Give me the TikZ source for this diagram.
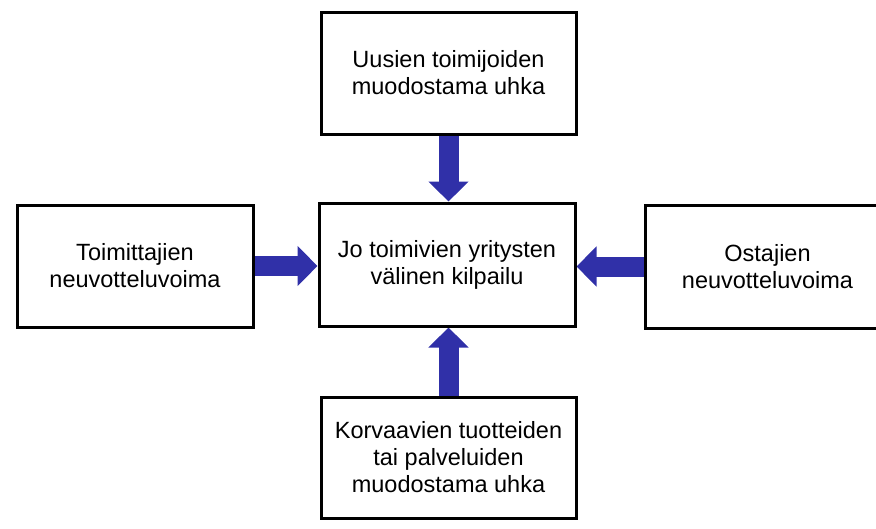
\documentclass[tikz,border=0pt]{standalone}
\usepackage{fontspec}
\setmainfont{Liberation Sans}
\usepackage{tikz}
\usetikzlibrary{arrows.meta,backgrounds}

\definecolor{forceblue}{RGB}{48,48,168}

\tikzset{
  force/.style={draw, line width=3pt, fill=white, align=center, inner sep=2pt,
    font=\fontsize{23.5pt}{27pt}\selectfont},
  push/.style={forceblue, line width=20pt, -{Triangle[width=39pt,length=20pt]}}
}

\begin{document}
\begin{tikzpicture}
            \useasboundingbox (0,0) rectangle (876pt,-528pt);

            % the five forces
            \node[force, minimum width=256pt, minimum height=123pt] (rivalry) at (447pt,-264.5pt)
                {Jo toimivien yritysten\\välinen kilpailu};
            \node[force, minimum width=255pt, minimum height=122pt] (entrants) at (448.5pt,-73pt)
                {Uusien toimijoiden\\muodostama uhka};
            \node[force, minimum width=236pt, minimum height=122pt] (suppliers) at (135pt,-266pt)
                {Toimittajien\\neuvotteluvoima};
            \node[force, minimum width=245pt, minimum height=123pt] (buyers) at (767.5pt,-266.5pt)
                {Ostajien\\neuvotteluvoima};
            \node[force, minimum width=255pt, minimum height=121pt] (substitutes) at (448.5pt,-457.5pt)
                {Korvaavien tuotteiden\\tai palveluiden\\muodostama uhka};

            % arrows into the centre
            \begin{scope}[on background layer]
                \draw[push] (entrants.south) -- (entrants.south |- rivalry.north);
                \draw[push] (suppliers.east) -- (suppliers.east -| rivalry.west);
                \draw[push] (buyers.west) -- (buyers.west -| rivalry.east);
                \draw[push] (substitutes.north) -- (substitutes.north |- rivalry.south);
            \end{scope}
        \end{tikzpicture}
\end{document}
